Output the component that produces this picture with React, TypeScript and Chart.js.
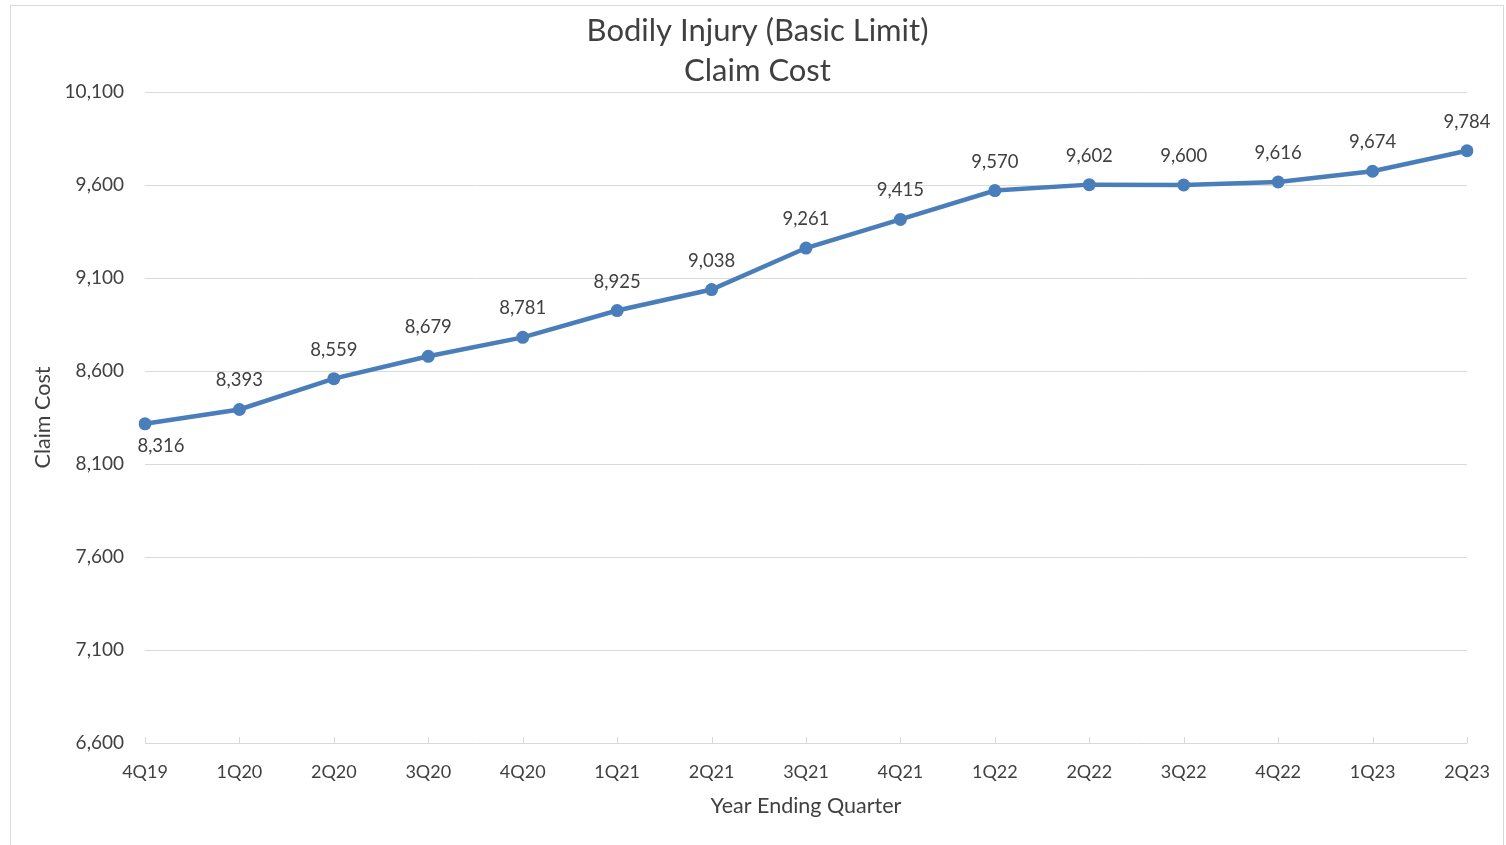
import React, { useEffect, useRef } from "react";
import { Chart, registerables } from "chart.js";

Chart.register(...registerables);

const categories = ["4Q19", "1Q20", "2Q20", "3Q20", "4Q20", "1Q21", "2Q21", "3Q21", "4Q21", "1Q22", "2Q22", "3Q22", "4Q22", "1Q23", "2Q23"];
const claimCost = [8316, 8393, 8559, 8679, 8781, 8925, 9038, 9261, 9415, 9570, 9602, 9600, 9616, 9674, 9784];
const titleLines = ["Bodily Injury (Basic Limit)", "Claim Cost"];
const yTitle = "Claim Cost";
const xTitle = "Year Ending Quarter";
const yMin = 6600;
const yMax = 10100;
const yStep = 500;

const FONT = "Lato, 'Open Sans', sans-serif";
const TEXT = "#404040";
const GRID = "#d9d9d9";
const BLUE = "#4a7ebb";

const fmt = (v: number) => v.toLocaleString("en-US");

const dataLabelPlugin = {
  id: "dataLabels",
  afterDatasetsDraw(chart: any) {
    const ctx = chart.ctx;
    const meta = chart.getDatasetMeta(0);
    const ds = chart.data.datasets[0];
    ctx.save();
    ctx.font = `18.5px ${FONT}`;
    ctx.fillStyle = TEXT;
    ctx.textAlign = "center";
    ctx.textBaseline = "middle";
    meta.data.forEach((pt: any, i: number) => {
      const below = i === 0;
      const y = below ? pt.y + 22 : pt.y - 29;
      const x = below ? pt.x + 16 : pt.x;
      ctx.fillText(fmt(ds.data[i]), x, y);
    });
    ctx.restore();
  },
};

const tickMarkPlugin = {
  id: "tickMarks",
  beforeDatasetsDraw(chart: any) {
    const ctx = chart.ctx;
    const xs = chart.scales.x;
    const bottom = chart.chartArea.bottom;
    ctx.save();
    ctx.strokeStyle = GRID;
    ctx.lineWidth = 1;
    ctx.beginPath();
    xs.ticks.forEach((_t: any, i: number) => {
      const x = Math.round(xs.getPixelForTick(i)) + 0.5;
      ctx.moveTo(x, bottom + 0.5);
      ctx.lineTo(x, bottom - 6);
    });
    ctx.stroke();
    ctx.restore();
  },
};

const titlePlugin = {
  id: "boxTitle",
  afterDraw(chart: any) {
    const ctx = chart.ctx;
    ctx.save();
    ctx.font = `31px ${FONT}`;
    ctx.fillStyle = TEXT;
    ctx.textAlign = "center";
    ctx.textBaseline = "middle";
    const cx = 757.5;
    titleLines.forEach((line, i) => {
      ctx.fillText(line, cx, 31 + i * 40);
    });
    ctx.restore();
  },
};

export default function App() {
  const ref = useRef<HTMLCanvasElement | null>(null);
  useEffect(() => {
    if (!ref.current) return;
    const chart = new Chart(ref.current, {
      type: "line",
      data: {
        labels: categories,
        datasets: [
          {
            data: claimCost,
            borderColor: BLUE,
            backgroundColor: BLUE,
            borderWidth: 4.5,
            pointRadius: 6.5,
            pointHoverRadius: 6.5,
            pointBackgroundColor: BLUE,
            pointBorderColor: BLUE,
            pointBorderWidth: 0,
            tension: 0,
          },
        ],
      },
      options: {
        responsive: false,
        animation: false,
        layout: { padding: { left: 20, right: 39, top: 92, bottom: 10 } },
        plugins: {
          legend: { display: false },
          tooltip: { enabled: false },
          title: { display: false },
        },
        scales: {
          x: {
            grid: { display: false },
            border: { display: false },
            ticks: {
              color: TEXT,
              font: { family: FONT, size: 18 },
              padding: 10,
              maxRotation: 0,
              autoSkip: false,
            },
            title: {
              display: true,
              text: xTitle,
              color: TEXT,
              font: { family: FONT, size: 21.5 },
              padding: { top: 0, bottom: 16 },
            },
            afterFit(scale: any) {
              scale.height = 92;
            },
          },
          y: {
            min: yMin,
            max: yMax,
            grid: { color: GRID, lineWidth: 1, drawTicks: false },
            border: { display: false },
            ticks: {
              stepSize: yStep,
              color: TEXT,
              font: { family: FONT, size: 19 },
              padding: 21,
              callback: (v: any) => fmt(Number(v)),
            },
            title: {
              display: true,
              text: yTitle,
              color: TEXT,
              font: { family: FONT, size: 21.5 },
              padding: { top: 10, bottom: 0 },
            },
            afterFit(scale: any) {
              scale.width = 125;
            },
          },
        },
      },
      plugins: [dataLabelPlugin, tickMarkPlugin, titlePlugin],
    });
    return () => chart.destroy();
  }, []);

  return (
    <div style={{ position: "fixed", left: 0, top: 0, width: 1506, height: 845, background: "#fff" }}>
      <div
        style={{
          position: "absolute",
          left: 10,
          top: 5,
          width: 1494,
          height: 860,
          border: "1px solid #d9d9d9",
          boxSizing: "border-box",
        }}
      />
      <canvas ref={ref} width={1506} height={845} style={{ position: "absolute", left: 0, top: 0 }} />
    </div>
  );
}
